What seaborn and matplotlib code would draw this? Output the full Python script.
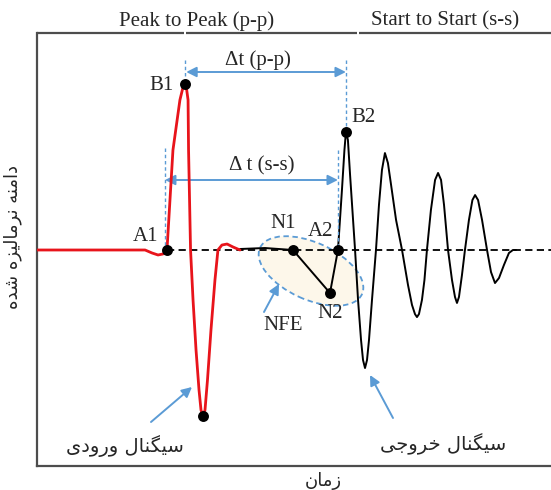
import matplotlib
matplotlib.use("Agg")
import matplotlib.pyplot as plt
import seaborn as sns
import pandas as pd
from matplotlib.patches import Ellipse

# ---------------- data (time in arbitrary units, amplitude normalised to B1 = 1) -------------
input_t = [0.000, 0.651, 0.693, 0.729, 0.759, 0.783, 0.801, 0.819, 0.840, 0.861, 0.877, 0.889,
           0.901, 0.910, 0.913, 0.919, 0.925, 0.940, 0.958, 0.976, 0.988, 1.000, 1.012, 1.027,
           1.048, 1.072, 1.090, 1.114, 1.145, 1.181, 1.223]
input_amp = [0.000, 0.000, -0.018, -0.030, -0.024, 0.000, 0.301, 0.602, 0.753, 0.904, 0.970, 1.000,
             0.970, 0.904, 0.602, 0.301, 0.000, -0.301, -0.602, -0.843, -0.964, -1.000, -0.964, -0.783,
             -0.482, -0.181, 0.000, 0.030, 0.036, 0.018, 0.000]

output_t = [1.223, 1.373, 1.542, 1.765, 1.813, 1.837, 1.852, 1.861, 1.873, 1.886, 1.916, 1.934,
            1.952, 1.964, 1.976, 1.988, 2.000, 2.018, 2.042, 2.060, 2.078, 2.096, 2.114, 2.133,
            2.163, 2.199, 2.235, 2.259, 2.277, 2.289, 2.301, 2.319, 2.334, 2.349, 2.373, 2.398,
            2.416, 2.434, 2.452, 2.476, 2.500, 2.518, 2.530, 2.542, 2.560, 2.578, 2.602, 2.623,
            2.639, 2.657, 2.681, 2.711, 2.735, 2.759, 2.783, 2.813, 2.843, 2.867, 2.886]
output_amp = [0.006, 0.012, 0.000, -0.259, 0.000, 0.361, 0.602, 0.711, 0.663, 0.452, 0.000, -0.301,
              -0.542, -0.663, -0.711, -0.663, -0.542, -0.301, 0.000, 0.271, 0.482, 0.584, 0.524, 0.392,
              0.181, 0.000, -0.211, -0.331, -0.386, -0.404, -0.386, -0.301, -0.181, 0.000, 0.241, 0.422,
              0.464, 0.422, 0.271, 0.000, -0.181, -0.283, -0.319, -0.283, -0.151, 0.000, 0.181, 0.301,
              0.331, 0.301, 0.181, 0.000, -0.133, -0.199, -0.169, -0.090, -0.018, 0.000, 0.000]

key_names = ["A1", "B1", "min", "N1", "N2", "A2", "B2"]
key_t = [0.783, 0.889, 1.000, 1.542, 1.765, 1.813, 1.861]
key_amp = [0.000, 1.000, -1.000, 0.000, -0.259, 0.000, 0.711]

header_left = "Peak to Peak (p-p)"
header_right = "Start to Start (s-s)"
dt_pp_label = "Δt (p-p)"
dt_ss_label = "Δ t (s-s)"
nfe_label = "NFE"
y_label = "دامنه نرمالیزه شده"
x_label = "زمان"
input_label = "سیگنال ورودی"
output_label = "سیگنال خروجی"

# ---------------- minimal Persian shaping (presentation forms, visual order) -----------------
FORMS = {
    'ا': ('\uFE8D', '\uFE8E', None, None),
    'د': ('\uFEA9', '\uFEAA', None, None),
    'ر': ('\uFEAD', '\uFEAE', None, None),
    'ز': ('\uFEAF', '\uFEB0', None, None),
    'و': ('\uFEED', '\uFEEE', None, None),
    'م': ('\uFEE1', '\uFEE2', '\uFEE3', '\uFEE4'),
    'ن': ('\uFEE5', '\uFEE6', '\uFEE7', '\uFEE8'),
    'ه': ('\uFEE9', '\uFEEA', '\uFEEB', '\uFEEC'),
    'ل': ('\uFEDD', '\uFEDE', '\uFEDF', '\uFEE0'),
    'ی': ('\uFBFC', '\uFBFD', '\uFBFE', '\uFBFF'),
    'ش': ('\uFEB5', '\uFEB6', '\uFEB7', '\uFEB8'),
    'س': ('\uFEB1', '\uFEB2', '\uFEB3', '\uFEB4'),
    'گ': ('\uFB92', '\uFB93', '\uFB94', '\uFB95'),
    'خ': ('\uFEA5', '\uFEA6', '\uFEA7', '\uFEA8'),
    'ج': ('\uFE9D', '\uFE9E', '\uFE9F', '\uFEA0'),
}


def shape(s):
    out = []
    for i, c in enumerate(s):
        if c not in FORMS:
            out.append(c)
            continue
        f = FORMS[c]
        prev = s[i - 1] if i > 0 else None
        nxt = s[i + 1] if i + 1 < len(s) else None
        jp = prev in FORMS and FORMS[prev][2] is not None
        jn = f[2] is not None and nxt in FORMS
        if jp and jn:
            out.append(f[3])
        elif jp:
            out.append(f[1])
        elif jn:
            out.append(f[2])
        else:
            out.append(f[0])
    return ''.join(reversed(out))


# ---------------- figure ----------------
sns.set_theme(style="white")
plt.rcParams['font.family'] = ['Liberation Serif', 'DejaVu Sans']
W, H = 551, 490
fig = plt.figure(figsize=(W / 100, H / 100), dpi=100)
ax = fig.add_axes([37 / W, 24 / H, 514 / W, 433 / H])
ax.set_xlim(0, 514 / 166)
ax.set_ylim(-216 / 166, 217 / 166)
ax.set_xticks([])
ax.set_yticks([])
for s in ("top", "right"):
    ax.spines[s].set_visible(False)
for s in ("left", "bottom"):
    ax.spines[s].set_color("#4d4d4d")
    ax.spines[s].set_linewidth(1.6)


def P(xp, yp):
    """figure-pixel position -> data position (for annotations only)"""
    return ((xp - 37) / 166, (250 - yp) / 166)


blue = "#5B9BD5"

# top border with two small breaks
for x0, x1 in [(37, 184), (186, 357), (359, 551)]:
    ax.plot([(x0 - 37) / 514, (x1 - 37) / 514], [1, 1], transform=ax.transAxes,
            color="#4d4d4d", lw=1.6, clip_on=False, solid_capstyle="butt")

# NFE ellipse
cx, cy = P(311, 271)
ax.add_patch(Ellipse((cx, cy), width=112 / 166, height=57 / 166, angle=-24.4,
                     facecolor="#FDF7EA", edgecolor=blue, lw=1.3, ls=(0, (3, 2)), zorder=1))

# dashed zero reference line from A1 onwards
ax.plot([key_t[0], 514 / 166], [0, 0], color="black", lw=1.3, ls=(0, (4, 2.4)), zorder=2)

df_in = pd.DataFrame({"t": input_t, "amp": input_amp})
df_out = pd.DataFrame({"t": output_t, "amp": output_amp})
sns.lineplot(data=df_out, x="t", y="amp", color="black", lw=1.4, estimator=None, sort=False,
             ax=ax, zorder=3)
sns.lineplot(data=df_in, x="t", y="amp", color="#E8141B", lw=2.0, estimator=None, sort=False,
             ax=ax, zorder=4)
sns.scatterplot(x=key_t, y=key_amp, color="black", s=62, edgecolor="black", linewidth=0,
                ax=ax, zorder=6)

# blue dashed guides
guide = dict(color=blue, lw=1.0, ls=(0, (2.5, 2)), zorder=5)
ax.plot([key_t[1], key_t[1]], [P(0, 60)[1], key_amp[1]], **guide)
ax.plot([key_t[6], key_t[6]], [P(0, 60)[1], key_amp[6]], **guide)
ax.plot([key_t[0] - 0.012, key_t[0] - 0.012], [P(0, 148)[1], 0], **guide)
ax.plot([key_t[5], key_t[5]], [P(0, 150)[1], 0], **guide)

# double arrows
dbl = dict(arrowstyle="<|-|>", color=blue, lw=1.4, mutation_scale=15, shrinkA=0, shrinkB=0)
ax.annotate("", xy=(key_t[6], P(0, 72)[1]), xytext=(key_t[1] + 0.01, P(0, 72)[1]), arrowprops=dbl)
ax.annotate("", xy=(key_t[5], P(0, 180)[1]), xytext=(key_t[0] - 0.012, P(0, 180)[1]), arrowprops=dbl)

# single arrows
sgl = dict(arrowstyle="-|>", color=blue, lw=1.4, mutation_scale=15, shrinkA=0, shrinkB=0)
ax.annotate("", xy=P(279, 284), xytext=P(264, 312), arrowprops=sgl)
ax.annotate("", xy=P(192, 387), xytext=P(151, 422), arrowprops=sgl)
ax.annotate("", xy=P(370, 375), xytext=P(393, 418), arrowprops=sgl)

# point labels
fs = 15
for name, (xp, yp) in {"B1": (161, 86), "B2": (363, 118), "A1": (146, 236), "A2": (321, 232),
                       "N1": (283, 223), "N2": (330, 313)}.items():
    ax.text(*P(xp, yp), name, fontsize=fs, ha="center", va="center", zorder=7)
ax.text(*P(283, 325), nfe_label, fontsize=fs, ha="center", va="center")
ax.text(*P(258, 60), dt_pp_label, fontsize=fs, ha="center", va="center")
ax.text(*P(262, 166), dt_ss_label, fontsize=fs, ha="center", va="center")

# headers above the frame
fig.text(197 / W, 1 - 21 / H, header_left, fontsize=fs, ha="center", va="center")
fig.text(445 / W, 1 - 21 / H, header_right, fontsize=fs, ha="center", va="center")

# Persian labels
fa = ["DejaVu Sans"]
ax.text(*P(125, 446), shape(input_label), fontsize=14, ha="center", va="center", family=fa)
ax.text(*P(443, 444), shape(output_label), fontsize=14, ha="center", va="center", family=fa)
fig.text(323 / W, 1 - 481 / H, shape(x_label), fontsize=13, ha="center", va="center", family=fa)
fig.text(13 / W, 1 - 237 / H, shape(y_label), fontsize=13, ha="center", va="center",
         rotation=90, family=fa)

fig.savefig("out.png", dpi=100)
